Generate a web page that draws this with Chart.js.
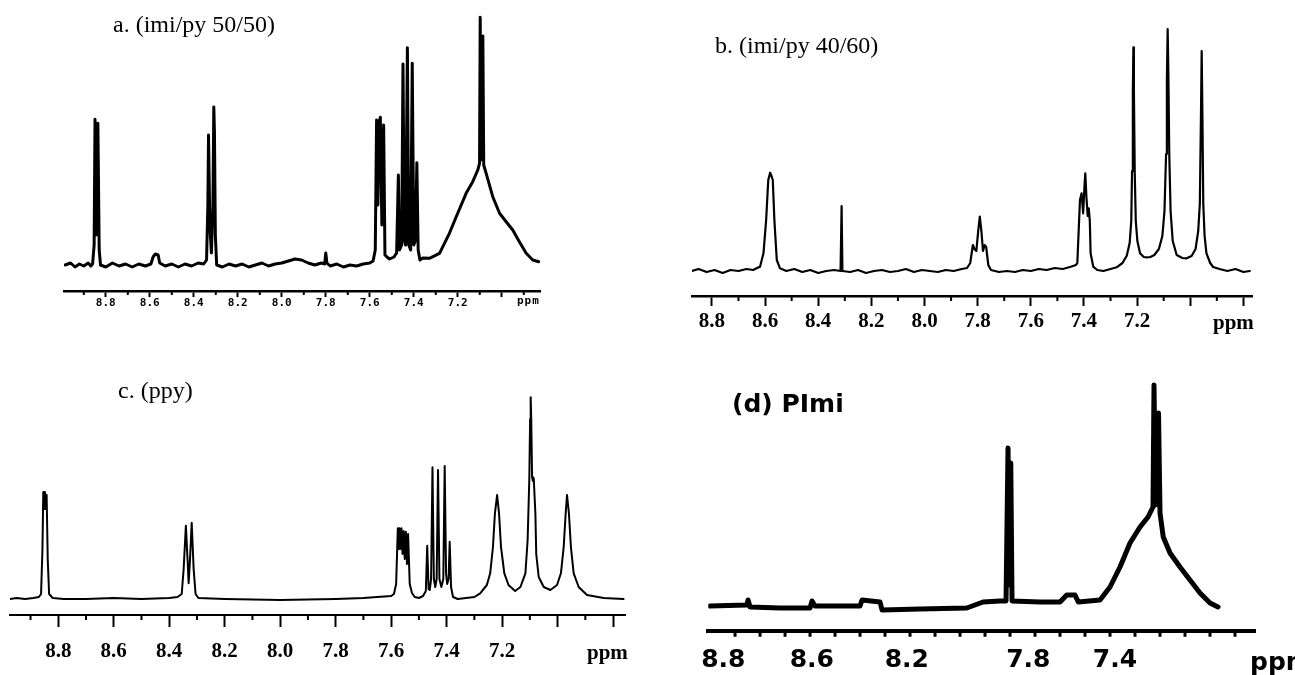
<!DOCTYPE html>
<html>
<head>
<meta charset="utf-8">
<script src="https://cdn.jsdelivr.net/npm/chart.js@4.4.1/dist/chart.umd.min.js"></script>
<style>
  html, body { margin: 0; padding: 0; background: #fff; }
  body { width: 1295px; height: 675px; overflow: hidden; position: relative; }
  canvas { position: absolute; }
  .title { position: absolute; white-space: nowrap; color: #000; }
  .serif { font-family: "Liberation Serif", "Times New Roman", serif; font-size: 24px; line-height: 24px; }
  .sansb { font-family: "DejaVu Sans", sans-serif; font-weight: bold; font-size: 25px; line-height: 25px; }
  .ppmS { font-family: "Liberation Serif", serif; font-weight: bold; font-size: 21px; line-height: 21px; }
  .ppmM { font-family: "DejaVu Sans Mono", monospace; font-weight: bold; font-size: 11px; line-height: 11px; letter-spacing: 1px; }
</style>
</head>
<body>
<canvas id="ca" width="640" height="330" style="left:0px;top:0px"></canvas>
<canvas id="cb" width="645" height="345" style="left:650px;top:0px"></canvas>
<canvas id="cc" width="650" height="345" style="left:0px;top:340px"></canvas>
<canvas id="cd" width="645" height="360" style="left:650px;top:340px"></canvas>

<div class="title serif" style="left:113px;top:12px">a. (imi/py 50/50)</div>
<div class="title serif" style="left:715px;top:33px">b. (imi/py 40/60)</div>
<div class="title serif" style="left:118px;top:378px">c. (ppy)</div>
<div class="title sansb" style="left:732px;top:391px">(d) PImi</div>

<div class="title ppmM" style="left:517px;top:295px">ppm</div>
<div class="title ppmS" style="left:1213px;top:312px">ppm</div>
<div class="title ppmS" style="left:587px;top:642px">ppm</div>
<div class="title sansb" style="left:1250px;top:649px">ppm</div>

<script>
// ---------------- Panel a: imi/py 50/50 ----------------
const aPpm = [8.985,8.96,8.94,8.92,8.90,8.88,8.868,8.860,8.853,8.849,8.843,8.836,8.830,8.824,8.80,8.77,8.74,8.71,8.68,8.65,8.62,8.595,8.585,8.575,8.562,8.555,8.53,8.50,8.47,8.44,8.41,8.38,8.355,8.342,8.336,8.333,8.327,8.320,8.313,8.309,8.306,8.302,8.296,8.27,8.24,8.21,8.18,8.15,8.12,8.09,8.06,8.03,8.00,7.97,7.94,7.91,7.88,7.85,7.82,7.805,7.80,7.795,7.78,7.75,7.72,7.69,7.66,7.63,7.60,7.585,7.575,7.569,7.563,7.558,7.552,7.545,7.537,7.531,7.522,7.51,7.49,7.478,7.470,7.465,7.455,7.449,7.443,7.437,7.429,7.423,7.414,7.407,7.400,7.392,7.386,7.380,7.372,7.359,7.329,7.283,7.238,7.207,7.162,7.132,7.109,7.101,7.098,7.094,7.089,7.086,7.082,7.071,7.041,7.010,6.980,6.950,6.920,6.889,6.859,6.832];
const aIntensity = [0,2,-2,1,-1,2,-1,1,20,145.7,30,141.7,15,0,-2,2,-1,1,-2,1,-1,1,8,11,10,2,-1,1,-2,1,-1,2,1,5,60,130,40,12,60,158,132,30,0,-2,1,-1,1,-2,0,2,-1,1,2,4,6,5,2,0,2,1,12,2,-1,1,-2,0,-1,1,2,4,15,145,60,143,147.7,40,140,10,8,6,8,12,90,15,20,201,25,20,217.3,20,15,201.7,20,25,102.3,15,5,7,6.7,11.7,31.7,48.3,71.7,83.3,95,101.7,247.7,105,110,229,100,91.7,68.3,51.7,43.3,35,23.3,11.7,5,3.3];
const aMajorTicks = [8.8,8.6,8.4,8.2,8.0,7.8,7.6,7.4,7.2,7.0];
const aTickLabels = ['8.8','8.6','8.4','8.2','8.0','7.8','7.6','7.4','7.2',''];
const aMinorTicks = [8.9,8.7,8.5,8.3,8.1,7.9,7.7,7.5,7.3,7.1,6.9];

// ---------------- Panel b: imi/py 40/60 ----------------
const bPpm = [8.875,8.85,8.82,8.79,8.76,8.73,8.70,8.67,8.645,8.630,8.619,8.606,8.596,8.588,8.581,8.576,8.571,8.565,8.556,8.544,8.52,8.49,8.46,8.43,8.40,8.37,8.34,8.316,8.312,8.309,8.28,8.25,8.22,8.19,8.16,8.13,8.10,8.07,8.04,8.01,7.98,7.95,7.92,7.89,7.86,7.84,7.828,7.818,7.812,7.805,7.798,7.792,7.786,7.780,7.774,7.768,7.760,7.75,7.72,7.69,7.66,7.63,7.60,7.57,7.54,7.51,7.48,7.453,7.43,7.425,7.415,7.409,7.403,7.398,7.395,7.391,7.386,7.382,7.378,7.375,7.365,7.35,7.327,7.30,7.277,7.255,7.239,7.228,7.222,7.219,7.216,7.214,7.212,7.209,7.205,7.199,7.189,7.175,7.164,7.15,7.135,7.118,7.105,7.097,7.091,7.088,7.085,7.082,7.079,7.074,7.066,7.051,7.030,7.014,6.995,6.980,6.970,6.964,6.960,6.957,6.954,6.951,6.946,6.939,6.925,6.914,6.89,6.86,6.83,6.80,6.776];
const bIntensity = [0,2,-1,1,-2,1,0,2,1,3,4.3,17.7,51,91,98.3,95,91,51,11,2.7,0,2,-1,1,-2,0,1,0,65,0,-1,1,-2,0,1,-1,0,2,-1,1,0,-1,1,0,2,3,8,26,22,20,40,54.3,40,20,26,24,6,1,-1,0,-1,1,0,2,1,3,2,4,6,8,71,77.7,57.7,85,97.7,75,55,62.7,50,17.7,4.3,1,0,2,3.7,8,15.3,28,50,100,180,223.7,180,100,50,30,17.7,14,13.7,14,16,22,35,60,117,190,242,190,117,60,30,16,13,12.7,15,22,40,67,150,220,150,67,35,17.7,8,4,2,0,2,-1,0];
const bMajorTicks = [8.8,8.6,8.4,8.2,8.0,7.8,7.6,7.4,7.2,7.0,6.8];
const bTickLabels = ['8.8','8.6','8.4','8.2','8.0','7.8','7.6','7.4','7.2','',''];
const bMinorTicks = [8.7,8.5,8.3,8.1,7.9,7.7,7.5,7.3,7.1,6.9];

// ---------------- Panel c: ppy ----------------
const cPpm = [8.974,8.95,8.92,8.89,8.87,8.862,8.857,8.854,8.851,8.848,8.845,8.842,8.838,8.833,8.82,8.78,8.70,8.60,8.50,8.40,8.37,8.355,8.348,8.340,8.334,8.330,8.325,8.319,8.312,8.305,8.295,8.2,8.0,7.8,7.70,7.65,7.60,7.59,7.582,7.576,7.573,7.570,7.567,7.563,7.559,7.555,7.551,7.547,7.543,7.539,7.533,7.525,7.515,7.50,7.485,7.475,7.470,7.465,7.461,7.456,7.451,7.446,7.441,7.436,7.431,7.426,7.419,7.412,7.407,7.402,7.398,7.393,7.389,7.384,7.377,7.36,7.33,7.30,7.279,7.255,7.243,7.233,7.226,7.218,7.211,7.204,7.192,7.177,7.153,7.134,7.116,7.108,7.102,7.099,7.097,7.095,7.092,7.089,7.086,7.080,7.077,7.068,7.050,7.026,7.002,6.988,6.978,6.971,6.966,6.959,6.952,6.942,6.924,6.894,6.834,6.762];
const cIntensity = [0,1,0,1,2,5,50,107,90,107,95,104,40,5,1,0,0,1,0,1,2,5,30,73.3,40,15.7,40,76.3,30,5,1,0,-1,0,1,2,3,5,15,70.7,50,70.7,50,70.7,45,68,40,67.3,35,65,15,6,2,1,3,8,53.3,10,9,20,131.7,20,12,20,129,20,12,20,133,25,15,20,57.3,12,2,0,1,2,5.7,14,25.7,52,85.3,104,85.3,52,25.7,14,8,12,25.7,59,119,180,201.7,180,122,118,120.7,85,45,22,12,9,14,25.7,52,85,104,85,52,25.7,12,4,1,0];
const cMajorTicks = [8.8,8.6,8.4,8.2,8.0,7.8,7.6,7.4,7.2,7.0,6.8];
const cTickLabels = ['8.8','8.6','8.4','8.2','8.0','7.8','7.6','7.4','7.2','',''];
const cMinorTicks = [8.9,8.7,8.5,8.3,8.1,7.9,7.7,7.5,7.3,7.1,6.9];

// ---------------- Panel d: PImi ----------------
const dPpm = [8.900,8.753,8.748,8.740,8.62,8.50,8.492,8.48,8.30,8.292,8.22,8.212,8.06,7.873,7.808,7.74,7.716,7.708,7.702,7.697,7.692,7.58,7.50,7.473,7.44,7.427,7.34,7.30,7.26,7.22,7.18,7.148,7.128,7.124,7.118,7.106,7.100,7.087,7.06,7.02,6.98,6.94,6.90,6.868];
const dIntensity = [-1,0,5,-2,-3,-3,4,-1,-1,5,3,-5,-4,-3,3,4,4,157,20,142,4,3,3,10,10,3,5,18,38,62,78,88,98,220,100,192,92,68,52,38,25,12,2,-2];
const dTickValues = [8.847,8.493,8.113,7.627,7.28];
const dTickLabels = ['8.8','8.6','8.2','7.8','7.4'];
const dTickMarks = [8.8,8.7,8.6,8.5,8.4,8.3,8.2,8.1,8.0,7.9,7.8,7.7,7.6,7.5,7.4,7.3,7.2,7.1,7.0,6.9,6.8];

// draws the short minor tick marks below the axis line via the x scale
const minorTickPlugin = {
  id: 'minorTicks',
  afterDraw(chart, args, opts) {
    if (!opts || !opts.values) return;
    const s = chart.scales.x, ctx = chart.ctx;
    ctx.save();
    ctx.strokeStyle = '#000';
    ctx.lineWidth = opts.width;
    ctx.beginPath();
    for (const v of opts.values) {
      const px = s.getPixelForValue(v);
      ctx.moveTo(px, s.top);
      ctx.lineTo(px, s.top + opts.length);
    }
    ctx.stroke();
    ctx.restore();
  }
};
Chart.register(minorTickPlugin);

function makePanel(id, p) {
  const data = p.ppm.map((x, i) => ({ x: x, y: p.inten[i] }));
  new Chart(document.getElementById(id), {
    type: 'line',
    data: { datasets: [{ data: data, borderColor: '#000', borderWidth: p.lineWidth, pointRadius: 0, tension: 0, fill: false, borderJoinStyle: 'round', borderCapStyle: 'round' }] },
    options: {
      responsive: false, animation: false, devicePixelRatio: 1,
      layout: { autoPadding: false, padding: p.pad },
      plugins: { legend: { display: false }, tooltip: { enabled: false }, title: { display: false },
                 minorTicks: { values: p.minor, length: p.minorLen, width: p.tickWidth } },
      scales: {
        x: {
          type: 'linear', reverse: true, min: p.xmin, max: p.xmax, offset: false,
          afterBuildTicks: (scale) => { scale.ticks = p.major.map(v => ({ value: v })); },
          grid: p.showMajor
            ? { display: true, drawOnChartArea: false, drawTicks: true, tickLength: p.majorLen, tickWidth: p.tickWidth, tickColor: '#000', color: '#000' }
            : { display: false, drawTicks: false },
          border: { display: true, color: '#000', width: p.axisWidth },
          ticks: { autoSkip: false, maxRotation: 0, minRotation: 0, color: '#000', font: p.font, padding: p.labelPad,
                   callback: (v, i) => p.labels[i] }
        },
        y: { display: false, min: p.ymin, max: p.ymax }
      }
    }
  });
}

makePanel('ca', { ppm: aPpm, inten: aIntensity, xmin: 6.823, xmax: 8.99, ymin: -26, ymax: 260,
  pad: { left: 64, right: 99.3, top: 5, bottom: 19.8 },
  major: aMajorTicks, labels: aTickLabels, minor: aMinorTicks, showMajor: true, majorLen: 6, minorLen: 4, tickWidth: 2,
  axisWidth: 2.5, lineWidth: 3, labelPad: 0,
  font: { family: 'DejaVu Sans Mono', size: 11, weight: 'bold' } });

makePanel('cb', { ppm: bPpm, inten: bIntensity, xmin: 6.765, xmax: 8.875, ymin: -25, ymax: 266,
  pad: { left: 42, right: 42.3, top: 5, bottom: 7.8 },
  major: bMajorTicks, labels: bTickLabels, minor: bMinorTicks, showMajor: true, majorLen: 10, minorLen: 5, tickWidth: 2,
  axisWidth: 2.5, lineWidth: 2.2, labelPad: 3,
  font: { family: 'Liberation Serif', size: 21, weight: 'bold' } });

makePanel('cc', { ppm: cPpm, inten: cIntensity, xmin: 6.757, xmax: 8.974, ymin: -16, ymax: 254,
  pad: { left: 10, right: 25, top: 5, bottom: 8.8 },
  major: cMajorTicks, labels: cTickLabels, minor: cMinorTicks, showMajor: true, majorLen: 12, minorLen: 5, tickWidth: 2,
  axisWidth: 2, lineWidth: 2, labelPad: 12,
  font: { family: 'Liberation Serif', size: 21, weight: 'bold' } });

makePanel('cd', { ppm: dPpm, inten: dIntensity, xmin: 6.72, xmax: 8.907, ymin: -25.7, ymax: 260,
  pad: { left: 58.3, right: 40, top: 5, bottom: 9.3 },
  major: dTickValues, labels: dTickLabels, minor: dTickMarks, showMajor: false, majorLen: 0, minorLen: 6, tickWidth: 3,
  axisWidth: 4, lineWidth: 5, labelPad: 15,
  font: { family: 'DejaVu Sans', size: 25, weight: 'bold' } });
</script>
</body>
</html>
